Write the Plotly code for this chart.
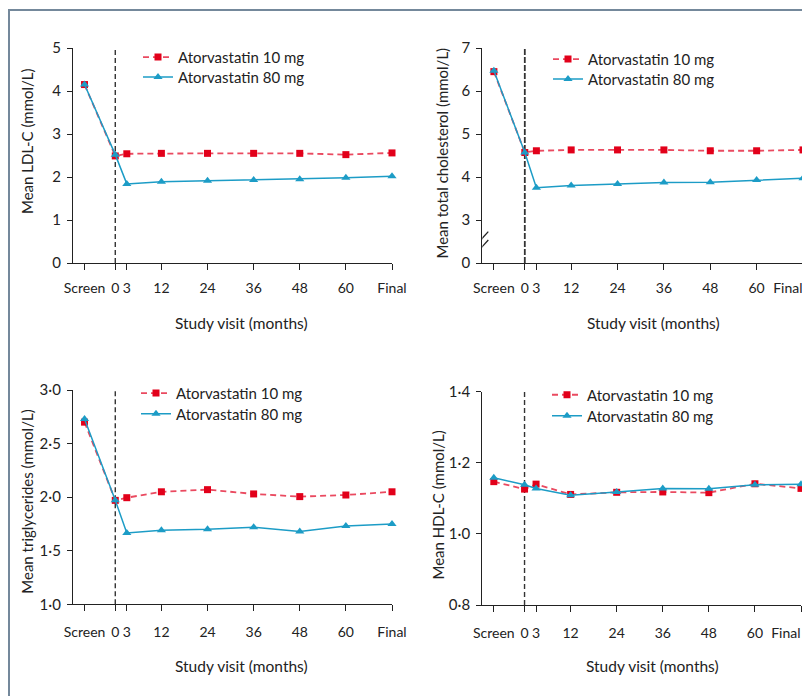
import plotly.graph_objects as go

# ---------------- data ----------------
visit_labels = ["Screen", "0", "3", "12", "24", "36", "48", "60", "Final"]
visit_months = [-8, 0, 3, 12, 24, 36, 48, 60, 72]

series_names = ["Atorvastatin 10 mg", "Atorvastatin 80 mg"]

ldl_10 = [4.15, 2.49, 2.54, 2.55, 2.55, 2.55, 2.55, 2.52, 2.56]
ldl_80 = [4.15, 2.52, 1.84, 1.89, 1.91, 1.93, 1.95, 1.98, 2.02]

tc_10 = [6.45, 4.57, 4.61, 4.63, 4.63, 4.63, 4.61, 4.61, 4.63]
tc_80 = [6.47, 4.57, 3.75, 3.80, 3.84, 3.87, 3.88, 3.93, 3.97]

tg_10 = [2.70, 1.97, 1.995, 2.05, 2.07, 2.03, 2.005, 2.02, 2.05]
tg_80 = [2.73, 1.97, 1.665, 1.69, 1.70, 1.72, 1.68, 1.73, 1.75]

hdl_10 = [1.147, 1.126, 1.140, 1.111, 1.117, 1.118, 1.116, 1.141, 1.128]
hdl_80 = [1.158, 1.138, 1.128, 1.109, 1.118, 1.128, 1.127, 1.138, 1.140]

ldl_ticks = [0, 1, 2, 3, 4, 5]
ldl_ticktext = ["0", "1", "2", "3", "4", "5"]
tc_ticks = [2, 3, 4, 5, 6, 7]
tc_ticktext = ["0", "3", "4", "5", "6", "7"]   # broken axis: bottom tick represents 0
tg_ticks = [1.0, 1.5, 2.0, 2.5, 3.0]
tg_ticktext = ["1·0", "1·5", "2·0", "2·5", "3·0"]
hdl_ticks = [0.8, 1.0, 1.2, 1.4]
hdl_ticktext = ["0·8", "1·0", "1·2", "1·4"]

y_titles = ["Mean LDL-C (mmol/L)", "Mean total cholesterol (mmol/L)",
            "Mean triglycerides (mmol/L)", "Mean HDL-C (mmol/L)"]
x_title = "Study visit (months)"

# ---------------- styling ----------------
OFF = 8                     # page offset of the plot div inside the browser window
W, H = 810 - OFF, 696 - OFF
FONT = "Lato"
RED_M = "#e2001a"
RED_L = "#ea4a60"
BLUE = "#1c9cc6"
AXC = "#222222"


def px(x):          # screen x -> paper fraction
    return (x - OFF) / W


def py(y):          # screen y -> paper fraction
    return 1 - (y - OFF) / H


fig = go.Figure()

panels = [
    dict(xa="x", ya="y", d10=ldl_10, d80=ldl_80, edge=False,
         xdom=(73, 392), ydom=(48, 263), yr=[0, 5], tv=ldl_ticks, tt=ldl_ticktext, stand=6,
         leg=((143, 57.3), (143, 77.3))),
    dict(xa="x2", ya="y2", d10=tc_10, d80=tc_80, edge=True,
         xdom=(482.3, 803), ydom=(48, 263), yr=[2, 7], tv=tc_ticks, tt=tc_ticktext, stand=6,
         leg=((553, 59.3), (553, 79.3))),
    dict(xa="x3", ya="y3", d10=tg_10, d80=tg_80, edge=False,
         xdom=(73, 392), ydom=(390, 604.3), yr=[1, 3], tv=tg_ticks, tt=tg_ticktext, stand=9,
         leg=((141, 393.3), (141, 414))),
    dict(xa="x4", ya="y4", d10=hdl_10, d80=hdl_80, edge=True,
         xdom=(482.3, 801), ydom=(391.7, 605), yr=[0.8, 1.4], tv=hdl_ticks, tt=hdl_ticktext, stand=9,
         leg=((552, 395), (552, 416))),
]

layout = dict(
    template="none",
    width=W, height=H, margin=dict(l=0, r=0, t=0, b=0, autoexpand=False),
    paper_bgcolor="white", plot_bgcolor="white",
    font=dict(family=FONT, size=14, color=AXC),
    showlegend=True,
)

shapes = []
annotations = []

leg_idx = 0
extra_axis = 5
for i, p in enumerate(panels):
    legs = []
    for k in range(2):
        leg_idx += 1
        name = "legend" if leg_idx == 1 else "legend%d" % leg_idx
        legs.append(name)
        (lx, ly) = p["leg"][k]
        layout[name] = dict(
            x=px(lx - 5), y=py(ly), xanchor="left", yanchor="middle",
            bgcolor="rgba(0,0,0,0)", borderwidth=0,
            font=dict(family=FONT, size=15, color=AXC), itemwidth=30)

    fig.add_trace(go.Scatter(
        x=visit_months, y=p["d10"], name=series_names[0], mode="lines+markers",
        line=dict(color=RED_L, width=1.8, dash="6px,4px"),
        marker=dict(symbol="square", size=7, color=RED_M),
        xaxis=p["xa"], yaxis=p["ya"], legend=legs[0], cliponaxis=False))
    fig.add_trace(go.Scatter(
        x=visit_months, y=p["d80"], name=series_names[1], mode="lines+markers",
        line=dict(color=BLUE, width=1.5),
        marker=dict(symbol="triangle-up", size=8, color=BLUE),
        xaxis=p["xa"], yaxis=p["ya"], legend=legs[1], cliponaxis=False))

    sx = "" if i == 0 else str(i + 1)
    main_text = list(visit_labels)
    if p["edge"]:
        # last label sits at the page edge: draw it right-aligned on an overlay axis
        main_text[-1] = ""
    xdom = [px(p["xdom"][0]), min(1, px(p["xdom"][1]))]
    layout["xaxis" + sx] = dict(
        domain=xdom, anchor=p["ya"], automargin=False,
        range=[-11, 72], tickmode="array", tickvals=visit_months, ticktext=main_text,
        showline=True, linecolor=AXC, linewidth=1.3, ticks="outside", ticklen=6,
        tickcolor=AXC, tickwidth=1.3, showgrid=False, zeroline=False,
        ticklabeloverflow="allow",
        ticklabelstandoff=p["stand"], tickfont=dict(size=14, color=AXC))
    if p["edge"]:
        layout["xaxis%d" % extra_axis] = dict(
            domain=xdom, anchor=p["ya"], overlaying=p["xa"], automargin=False,
            range=[-11, 72], tickmode="array", tickvals=visit_months[-1:],
            ticktext=visit_labels[-1:], showline=False, ticks="outside", ticklen=6,
            tickcolor="rgba(0,0,0,0)", showgrid=False, zeroline=False,
            ticklabelposition="outside left", ticklabeloverflow="allow",
            ticklabelstandoff=p["stand"] + 6, tickfont=dict(size=14, color=AXC))
        # an invisible trace so the overlay axis is drawn
        fig.add_trace(go.Scatter(x=[visit_months[-1]], y=[p["d10"][-1]], mode="markers",
                                 marker=dict(opacity=0), showlegend=False, hoverinfo="skip",
                                 xaxis="x%d" % extra_axis, yaxis=p["ya"]))
        extra_axis += 1
    layout["yaxis" + sx] = dict(
        domain=[py(p["ydom"][1]), py(p["ydom"][0])], anchor=p["xa"], automargin=False,
        range=p["yr"], tickmode="array", tickvals=p["tv"], ticktext=p["tt"],
        showline=True, linecolor=AXC, linewidth=1.3, ticks="outside", ticklen=5,
        tickcolor=AXC, tickwidth=1.3, showgrid=False, zeroline=False,
        ticklabeloverflow="allow",
        ticklabelstandoff=3, tickfont=dict(size=15, color=AXC))

    # vertical dashed reference line at month 0
    shapes.append(dict(
        type="line", xref=p["xa"], yref=p["ya"] + " domain",
        x0=visit_months[1], x1=visit_months[1], y0=0, y1=1,
        line=dict(color="#333333", width=1.4 if i != 1 else 1.8,
                  dash="5px,3px" if i != 1 else "6px,2px"), layer="below"))

# axis titles
xt_pos = [(242, 323), (653, 323), (241, 665.7), (652, 665.7)]
yt_pos = [(27, 141), (441, 152.5), (27, 501.7), (437.5, 505)]
for i in range(4):
    annotations.append(dict(text=x_title, x=px(xt_pos[i][0]), y=py(xt_pos[i][1]),
                            xref="paper", yref="paper", showarrow=False,
                            xanchor="center", yanchor="middle",
                            font=dict(family=FONT, size=15.5, color=AXC)))
    annotations.append(dict(text=y_titles[i], x=px(yt_pos[i][0]), y=py(yt_pos[i][1]),
                            xref="paper", yref="paper", showarrow=False, textangle=-90,
                            xanchor="center", yanchor="middle",
                            font=dict(family=FONT, size=15, color=AXC)))

# broken-axis mark on total cholesterol axis
brk = 2.48
shapes.append(dict(type="rect", xref="x2", yref="y2", xsizemode="pixel", ysizemode="pixel",
                   xanchor=-11, yanchor=brk, x0=-2, x1=2, y0=-3.5, y1=3.5,
                   fillcolor="white", line=dict(width=0), layer="above"))
for off in (4.2, -4.2):
    shapes.append(dict(type="line", xref="x2", yref="y2", xsizemode="pixel", ysizemode="pixel",
                       xanchor=-11, yanchor=brk, x0=-6, x1=6, y0=off - 6.5, y1=off + 6.5,
                       line=dict(color=AXC, width=1.3), layer="above"))

# figure frame (left and top rules)
shapes.append(dict(type="line", xref="paper", yref="paper", x0=1 / W, x1=1 / W,
                   y0=0, y1=py(10), line=dict(color="#74889b", width=2)))
shapes.append(dict(type="line", xref="paper", yref="paper", x0=0, x1=1,
                   y0=py(10), y1=py(10), line=dict(color="#74889b", width=2)))

layout["shapes"] = shapes
layout["annotations"] = annotations
fig.update_layout(**layout)

fig.write_html("out.html")
